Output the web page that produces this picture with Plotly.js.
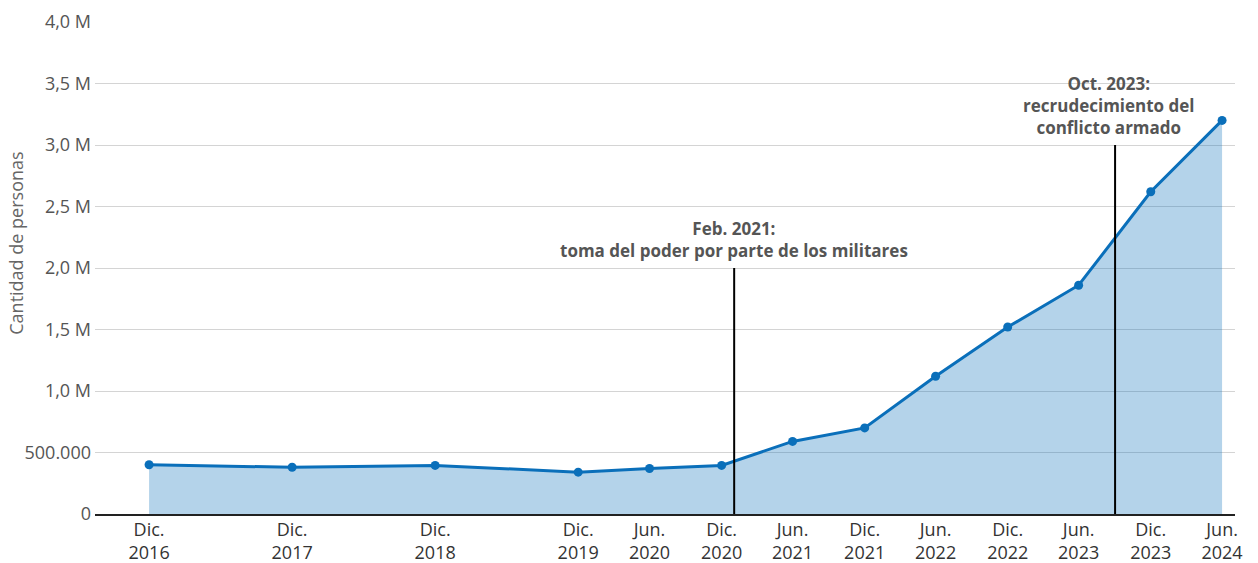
<!DOCTYPE html>
<html>
<head>
<meta charset="utf-8">
<script src="https://cdn.plot.ly/plotly-3.0.1.min.js"></script>
<style>
  html, body { margin: 0; padding: 0; background: #fff; }
  #chart { width: 1258px; height: 563px; }
</style>
</head>
<body>
<div id="chart"></div>
<script>
// Desplazados internos (cantidad de personas)
var fechas = ['2016-12-31', '2017-12-31', '2018-12-31', '2019-12-31', '2020-06-30',
  '2020-12-31', '2021-06-30', '2021-12-31', '2022-06-30', '2022-12-31',
  '2023-06-30', '2023-12-31', '2024-06-30'];
var personas = [400000, 380000, 395000, 340000, 370000, 395000, 590000, 700000,
  1120000, 1520000, 1860000, 2620000, 3200000];

var tickFechas = fechas;
var tickTextos = ['Dic.<br>2016', 'Dic.<br>2017', 'Dic.<br>2018', 'Dic.<br>2019', 'Jun.<br>2020',
  'Dic.<br>2020', 'Jun.<br>2021', 'Dic.<br>2021', 'Jun.<br>2022', 'Dic.<br>2022',
  'Jun.<br>2023', 'Dic.<br>2023', 'Jun.<br>2024'];

var yTicks = [0, 500000, 1000000, 1500000, 2000000, 2500000, 3000000, 3500000, 4000000];
var yTextos = ['0', '500.000', '1,0 M', '1,5 M', '2,0 M', '2,5 M', '3,0 M', '3,5 M', '4,0 M'];

// eventos marcados
var eventoFechas = ['2021-02-01', '2023-10-01'];
var eventoAlturas = [2000000, 3000000];
var eventoLineas = [
  ['Feb. 2021:', 'toma del poder por parte de los militares'],
  ['Oct. 2023:', 'recrudecimiento del', 'conflicto armado']
];

var fuente = '"Open Sans", sans-serif';

var trace = {
  x: fechas,
  y: personas,
  type: 'scatter',
  mode: 'lines+markers',
  fill: 'tozeroy',
  fillcolor: 'rgba(8,110,185,0.3)',
  line: {color: '#0a6fba', width: 3},
  marker: {color: '#0a6fba', size: 9},
  hoverinfo: 'x+y'
};

var shapes = eventoFechas.map(function(f, i) {
  return {
    type: 'line', xref: 'x', yref: 'y',
    x0: f, x1: f, y0: 0, y1: eventoAlturas[i],
    line: {color: '#000', width: 2}
  };
});

var xShift = [0, -6];
var annotations = eventoFechas.map(function(f, i) {
  return {
    x: f, y: eventoAlturas[i], xref: 'x', yref: 'y',
    text: eventoLineas[i].map(function(t) { return '<b>' + t + '</b>'; }).join('<br>'),
    showarrow: false,
    xanchor: 'center', yanchor: 'bottom',
    xshift: xShift[i], yshift: 4,
    font: {family: fuente, size: 17, color: '#555'}
  };
});

// título del eje y
annotations.push({
  x: -0.069, y: 2200000, xref: 'paper', yref: 'y',
  text: 'Cantidad de personas', textangle: -90, showarrow: false,
  xanchor: 'center', yanchor: 'middle',
  font: {family: fuente, size: 18, color: '#666'}
});

var layout = {
  width: 1258,
  height: 563,
  margin: {l: 95, r: 23, t: 22, b: 49},
  paper_bgcolor: '#fff',
  plot_bgcolor: '#fff',
  showlegend: false,
  font: {family: fuente},
  xaxis: {
    type: 'date',
    range: ['2016-08-15', '2024-08-02'],
    tickvals: tickFechas,
    ticktext: tickTextos,
    tickfont: {size: 18, color: '#333'},
    ticklabelstandoff: -2,
    showgrid: false,
    showline: true,
    linecolor: '#222',
    linewidth: 2,
    ticks: '',
    fixedrange: true
  },
  yaxis: {
    range: [0, 4000000],
    tickvals: yTicks,
    ticktext: yTextos,
    tickfont: {size: 18, color: '#555'},
    gridcolor: '#d4d4d4',
    gridwidth: 1,
    zeroline: false,
    ticks: '',
    ticklabelstandoff: 3,
    fixedrange: true
  },
  shapes: shapes,
  annotations: annotations
};

Plotly.newPlot('chart', [trace], layout, {displayModeBar: false});
</script>
</body>
</html>
